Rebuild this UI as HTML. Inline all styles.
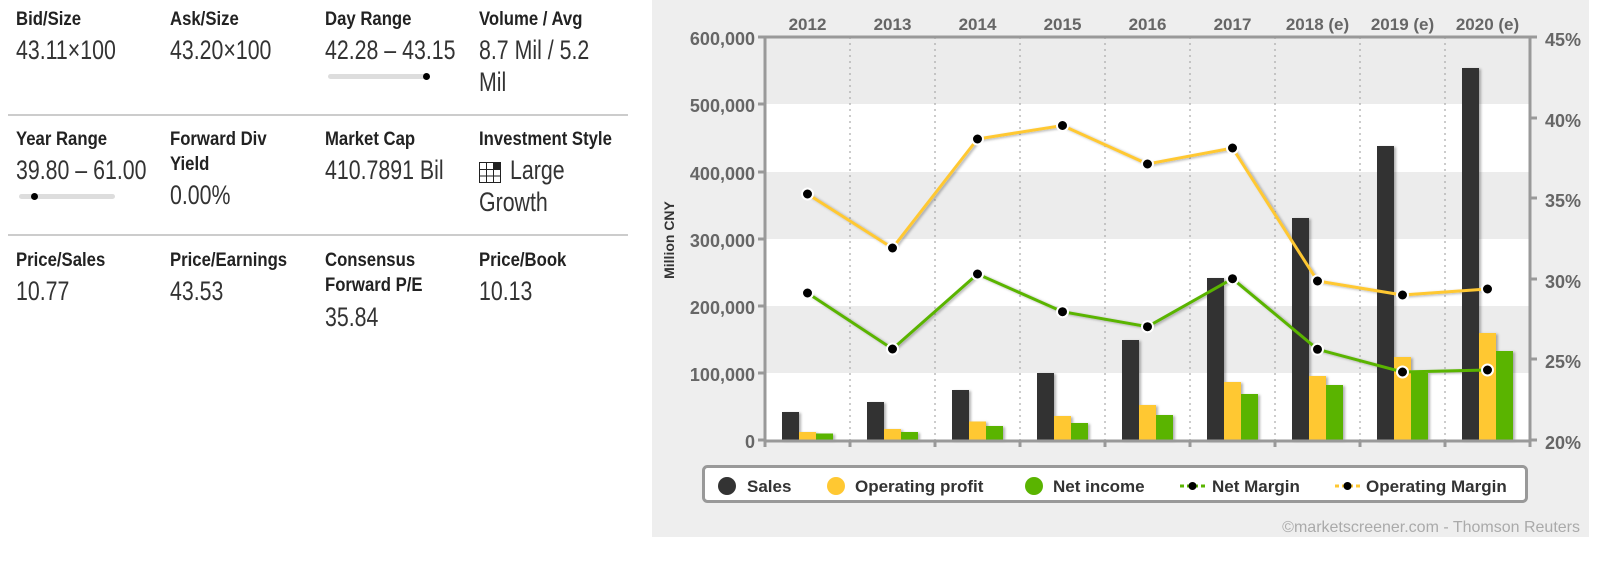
<!DOCTYPE html>
<html><head><meta charset="utf-8"><style>
body{margin:0;width:1624px;height:580px;background:#fff;position:relative;overflow:hidden;font-family:"Liberation Sans",sans-serif;}
.l{position:absolute;font-weight:bold;font-size:19px;color:#222;line-height:26px;transform:scaleX(0.88);transform-origin:0 0;white-space:nowrap;}
.v{position:absolute;font-size:27px;color:#333;line-height:32px;transform:scaleX(0.79);transform-origin:0 0;white-space:nowrap;}
.hr{position:absolute;left:8px;width:620px;height:2px;background:#ccc;}
.bar{position:absolute;height:5px;background:#ddd;border-radius:3px;}
.dot{position:absolute;width:7px;height:7px;background:#000;border-radius:50%;}
svg text{font-family:"Liberation Sans",sans-serif;font-weight:bold;}
</style></head><body>
<div class="l" style="left:16px;top:7px">Bid/Size</div>
<div class="l" style="left:170px;top:7px">Ask/Size</div>
<div class="l" style="left:325px;top:7px">Day Range</div>
<div class="l" style="left:479px;top:7px">Volume / Avg</div>
<div class="v" style="left:16px;top:34px">43.11×100</div>
<div class="v" style="left:170px;top:34px">43.20×100</div>
<div class="v" style="left:325px;top:34px">42.28 – 43.15</div>
<div class="v" style="left:479px;top:34px">8.7 Mil / 5.2</div>
<div class="v" style="left:479px;top:66px">Mil</div>
<div class="bar" style="left:328px;top:74px;width:100px"></div><div class="dot" style="left:423px;top:73px"></div>
<div class="hr" style="top:114px"></div>
<div class="l" style="left:16px;top:127px">Year Range</div>
<div class="l" style="left:170px;top:127px">Forward Div</div>
<div class="l" style="left:170px;top:152px">Yield</div>
<div class="l" style="left:325px;top:127px">Market Cap</div>
<div class="l" style="left:479px;top:127px">Investment Style</div>
<div class="v" style="left:16px;top:154px">39.80 – 61.00</div>
<div class="v" style="left:170px;top:179px">0.00%</div>
<div class="v" style="left:325px;top:154px">410.7891 Bil</div>
<svg style="position:absolute;left:479px;top:162px" width="22" height="21" viewBox="0 0 22 21"><rect x="0.5" y="0.5" width="21" height="20" fill="#fff" stroke="#222"/><path d="M7.5 0v21M14.5 0v21M0 7.5h22M0 14h22" stroke="#222"/><rect x="15" y="1" width="6" height="6" fill="#222"/></svg>
<div class="v" style="left:510px;top:154px">Large</div>
<div class="v" style="left:479px;top:186px">Growth</div>
<div class="bar" style="left:19px;top:194px;width:96px"></div><div class="dot" style="left:31px;top:193px"></div>
<div class="hr" style="top:234px"></div>
<div class="l" style="left:16px;top:248px">Price/Sales</div>
<div class="l" style="left:170px;top:248px">Price/Earnings</div>
<div class="l" style="left:325px;top:248px">Consensus</div>
<div class="l" style="left:325px;top:273px">Forward P/E</div>
<div class="l" style="left:479px;top:248px">Price/Book</div>
<div class="v" style="left:16px;top:275px">10.77</div>
<div class="v" style="left:170px;top:275px">43.53</div>
<div class="v" style="left:325px;top:301px">35.84</div>
<div class="v" style="left:479px;top:275px">10.13</div>

<svg style="position:absolute;left:0;top:0" width="1624" height="580">
<defs><filter id="sh" x="-20%" y="-20%" width="160%" height="160%"><feDropShadow dx="2" dy="1" stdDeviation="1.2" flood-color="#000" flood-opacity="0.3"/></filter></defs>
<rect x="652" y="0" width="937" height="537" fill="#eeeeee"/>
<rect x="765" y="37" width="765" height="403" fill="#fff"/>
<rect x="765" y="37" width="765" height="67" fill="#ececec"/>
<rect x="765" y="172" width="765" height="67" fill="#ececec"/>
<rect x="765" y="306" width="765" height="67" fill="#ececec"/>
<g stroke="#aaa" stroke-dasharray="2,4" stroke-width="1.2">
<path d="M850 37V440M935 37V440M1020 37V440M1105 37V440M1190 37V440M1275 37V440M1360 37V440M1445 37V440"/></g>
<g filter="url(#sh)">
<g fill="#333"><rect x="782" y="412" width="17" height="28"/><rect x="867" y="402" width="17" height="38"/><rect x="952" y="390" width="17" height="50"/><rect x="1037" y="373" width="17" height="67"/><rect x="1122" y="340" width="17" height="100"/><rect x="1207" y="278" width="17" height="162"/><rect x="1292" y="218" width="17" height="222"/><rect x="1377" y="146" width="17" height="294"/><rect x="1462" y="68" width="17" height="372"/></g>
<g fill="#ffc832"><rect x="799" y="432" width="17" height="8"/><rect x="884" y="429" width="17" height="11"/><rect x="969" y="421.5" width="17" height="18.5"/><rect x="1054" y="416" width="17" height="24"/><rect x="1139" y="405" width="17" height="35"/><rect x="1224" y="382" width="17" height="58"/><rect x="1309" y="376" width="17" height="64"/><rect x="1394" y="357" width="17" height="83"/><rect x="1479" y="333" width="17" height="107"/></g>
<g fill="#5ab400"><rect x="816" y="433.5" width="17" height="6.5"/><rect x="901" y="432" width="17" height="8"/><rect x="986" y="426" width="17" height="14"/><rect x="1071" y="423" width="17" height="17"/><rect x="1156" y="415" width="17" height="25"/><rect x="1241" y="394" width="17" height="46"/><rect x="1326" y="385" width="17" height="55"/><rect x="1411" y="373" width="17" height="67"/><rect x="1496" y="351" width="17" height="89"/></g>
<polyline fill="none" stroke="#ffc832" stroke-width="3" points="807.5,194 892.5,248 977.5,139 1062.5,125.5 1147.5,164 1232.5,148 1317.5,281 1402.5,295 1487.5,289"/>
<polyline fill="none" stroke="#5ab400" stroke-width="3" points="807.5,293 892.5,349 977.5,274 1062.5,311.7 1147.5,326.7 1232.5,278.7 1317.5,349.3 1402.5,372 1487.5,370"/>
</g>
<g fill="#000" stroke="#fff" stroke-width="2">
<circle cx="807.5" cy="194" r="5.5"/><circle cx="892.5" cy="248" r="5.5"/><circle cx="977.5" cy="139" r="5.5"/><circle cx="1062.5" cy="125.5" r="5.5"/><circle cx="1147.5" cy="164" r="5.5"/><circle cx="1232.5" cy="148" r="5.5"/><circle cx="1317.5" cy="281" r="5.5"/><circle cx="1402.5" cy="295" r="5.5"/><circle cx="1487.5" cy="289" r="5.5"/>
<circle cx="807.5" cy="293" r="5.5"/><circle cx="892.5" cy="349" r="5.5"/><circle cx="977.5" cy="274" r="5.5"/><circle cx="1062.5" cy="311.7" r="5.5"/><circle cx="1147.5" cy="326.7" r="5.5"/><circle cx="1232.5" cy="278.7" r="5.5"/><circle cx="1317.5" cy="349.3" r="5.5"/><circle cx="1402.5" cy="372" r="5.5"/><circle cx="1487.5" cy="370" r="5.5"/>
</g>
<g stroke="#999" stroke-width="3" fill="none">
<path d="M765 37H1530M765 37V441M1530 37V441M765 441H1530"/>
<path d="M765 441v6M850 441v6M935 441v6M1020 441v6M1105 441v6M1190 441v6M1275 441v6M1360 441v6M1445 441v6M1530 441v6"/>
<path d="M758 37h7M758 104h7M758 172h7M758 239h7M758 306h7M758 373h7M758 440h7"/>
<path d="M1530 37h7M1530 118h7M1530 198h7M1530 279h7M1530 359h7M1530 440h7"/>
</g>
<g fill="#666" font-size="17" text-anchor="middle">
<text x="807.5" y="30">2012</text><text x="892.5" y="30">2013</text><text x="977.5" y="30">2014</text><text x="1062.5" y="30">2015</text><text x="1147.5" y="30">2016</text><text x="1232.5" y="30">2017</text><text x="1317.5" y="30">2018 (e)</text><text x="1402.5" y="30">2019 (e)</text><text x="1487.5" y="30">2020 (e)</text>
</g>
<g fill="#666" font-size="18" text-anchor="end">
<text x="755" y="45">600,000</text><text x="755" y="112">500,000</text><text x="755" y="180">400,000</text><text x="755" y="247">300,000</text><text x="755" y="314">200,000</text><text x="755" y="381">100,000</text><text x="755" y="448">0</text>
</g>
<g fill="#666" font-size="18">
<text x="1545" y="46">45%</text><text x="1545" y="127">40%</text><text x="1545" y="207">35%</text><text x="1545" y="288">30%</text><text x="1545" y="368">25%</text><text x="1545" y="449">20%</text>
</g>
<text transform="translate(674,240) rotate(-90)" text-anchor="middle" fill="#333" font-size="14">Million CNY</text>
<rect x="703.5" y="466.5" width="823" height="35" rx="4" fill="#fff" stroke="#999" stroke-width="3"/>
<g font-size="17" fill="#333">
<circle cx="727" cy="486" r="9" fill="#333"/><text x="747" y="492">Sales</text>
<circle cx="836" cy="486" r="9" fill="#ffc832"/><text x="855" y="492">Operating profit</text>
<circle cx="1034" cy="486" r="9" fill="#5ab400"/><text x="1053" y="492">Net income</text>
<path d="M1180 486h25" stroke="#5ab400" stroke-width="3" stroke-dasharray="4,3"/><circle cx="1192.5" cy="486" r="4" fill="#000"/><text x="1212" y="492">Net Margin</text>
<path d="M1335 486h25" stroke="#ffc832" stroke-width="3" stroke-dasharray="4,3"/><circle cx="1347.5" cy="486" r="4" fill="#000"/><text x="1366" y="492">Operating Margin</text>
</g>
<text x="1580" y="532" text-anchor="end" fill="#aaa" font-size="16" style="font-weight:normal">©marketscreener.com - Thomson Reuters</text>
</svg>
</body></html>
